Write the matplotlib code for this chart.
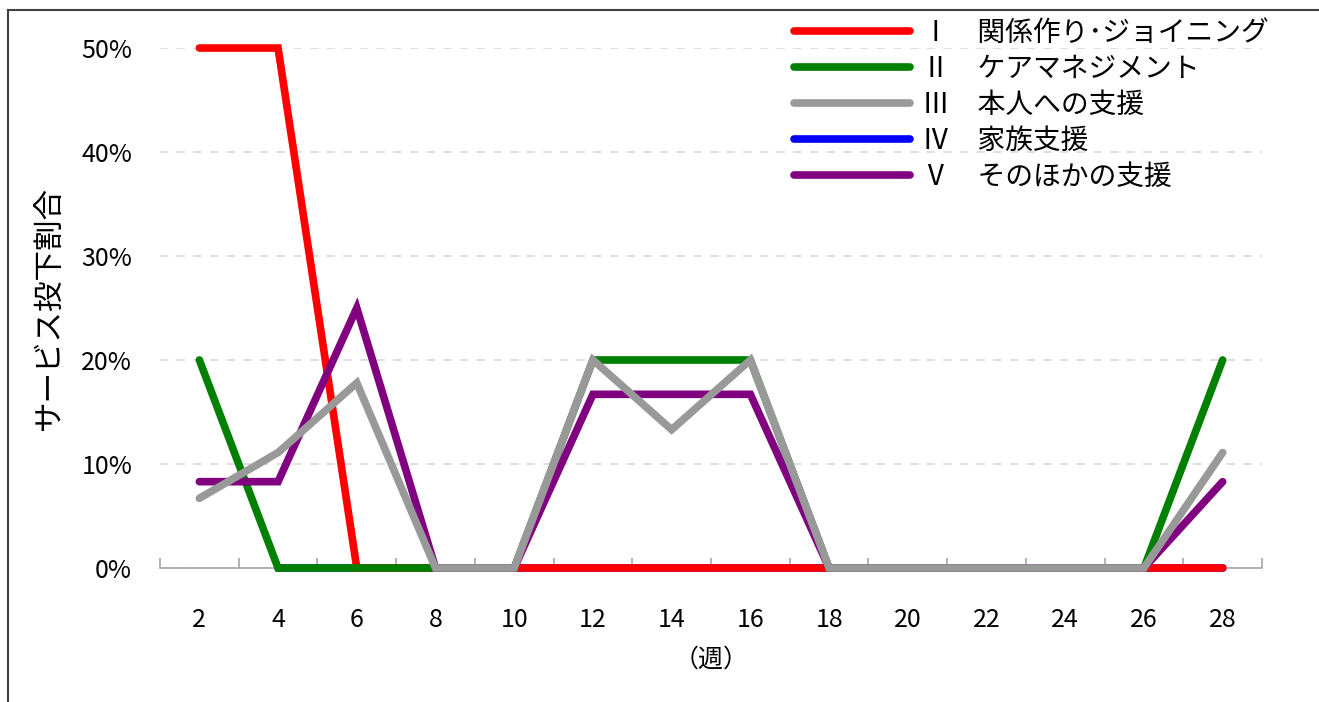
import numpy as np
import matplotlib
matplotlib.use("Agg")
from matplotlib import pyplot as plt
from matplotlib.lines import Line2D
from matplotlib.ticker import FuncFormatter, FixedLocator

plt.rcParams['font.family'] = ['Noto Sans CJK JP', 'DejaVu Sans']

# weeks on the category axis
weeks = [2, 4, 6, 8, 10, 12, 14, 16, 18, 20, 22, 24, 26, 28]

# share of service input per category (fraction)
joining = [0.50, 0.50, 0, 0, 0, 0, 0, 0, 0, 0, 0, 0, 0, 0]
care_mgmt = [0.20, 0, 0, 0, 0, 0.20, 0.20, 0.20, 0, 0, 0, 0, 0, 0.20]
self_support = [0.067, 0.111, 0.178, 0, 0, 0.20, 0.133, 0.20, 0, 0, 0, 0, 0, 0.111]
family_support = [np.nan, 0, 0, 0, 0, 0, 0, 0, 0, 0, 0, 0, 0, 0]
other_support = [0.083, 0.083, 0.25, 0, 0, 0.167, 0.167, 0.167, 0, 0, 0, 0, 0, 0.083]

labels = ['Ⅰ　関係作り･ジョイニング', 'Ⅱ　ケアマネジメント', 'Ⅲ　本人への支援',
          'Ⅳ　家族支援', 'Ⅴ　そのほかの支援']
colors = ['#ff0000', '#008000', '#999999', '#0000ff', '#800080']
series = [joining, care_mgmt, self_support, family_support, other_support]
# drawing order: later ones sit on top
zorders = [3, 4, 6, 2, 5]

fig = plt.figure(figsize=(13.19, 7.02), dpi=100)
ax = fig.add_axes([0.1213, 0.1909, 0.8355, 0.7407])

x = np.arange(len(weeks))
handles = []
for vals, lab, col, z in zip(series, labels, colors, zorders):
    h, = ax.plot(x, vals, color=col, lw=5.5, label=lab, zorder=z,
                 solid_capstyle='round', solid_joinstyle='miter', clip_on=False)
    handles.append(h)

ax.set_xlim(-0.5, len(weeks) - 0.5)
ax.set_ylim(0, 0.5)
ax.set_xticks(x)
ax.set_xticklabels([str(w) for w in weeks])
ax.xaxis.set_minor_locator(FixedLocator(np.arange(-0.5, len(weeks), 1)))
ax.tick_params(axis='x', which='major', length=0, pad=28, labelsize=18)
ax.tick_params(axis='x', which='minor', direction='in', length=7, color='#a6a6a6', width=1.2)
ax.set_yticks(np.arange(0, 0.51, 0.1))
ax.yaxis.set_major_formatter(FuncFormatter(lambda v, p: f"{v * 100:.0f}%"))
ax.tick_params(axis='y', length=0, pad=20, labelsize=18)

for s in ['top', 'right', 'left']:
    ax.spines[s].set_visible(False)
ax.spines['bottom'].set_color('#a6a6a6')
ax.spines['bottom'].set_linewidth(1.2)
ax.yaxis.grid(True, ls=(0, (5, 5)), color='#d9d9d9', lw=1.2)
ax.set_axisbelow(True)

ax.set_ylabel('サービス投下割合', fontsize=22, labelpad=12)
ax.set_xlabel('（週）', fontsize=18, labelpad=10)

leg = ax.legend(handles=handles, loc='upper left', bbox_to_anchor=(0.565, 1.08),
                frameon=False, fontsize=20, handlelength=4.2, handletextpad=0.4,
                labelspacing=0.22, borderaxespad=0)

# outer frame edges
fig.add_artist(Line2D([8 / 1319, 8 / 1319], [0, 1 - 10 / 702], transform=fig.transFigure,
                      color='#404040', lw=1.5))
fig.add_artist(Line2D([8 / 1319, 1], [1 - 10 / 702, 1 - 10 / 702], transform=fig.transFigure,
                      color='#404040', lw=1.5))

fig.savefig('out.png', dpi=100)
